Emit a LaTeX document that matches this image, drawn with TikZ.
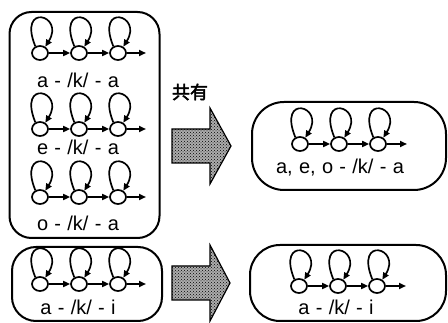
\documentclass[tikz,border=0pt]{standalone}
\usepackage{fontspec}
\setmainfont{Liberation Sans}
\newfontfamily\cjk[FakeBold=2.5]{Noto Sans CJK JP}
\usetikzlibrary{arrows.meta,patterns,shapes.geometric}
\newcommand\labfont{\fontsize{20}{20}\selectfont\spaceskip 6.3pt plus 1pt\relax}
\tikzset{
  st/.style={draw, ellipse, line width=1.7pt, minimum width=16pt, minimum height=14pt, inner sep=0pt},
  lp/.style={line width=1.7pt, -{Triangle[length=7pt,width=6pt]}},
  tr/.style={line width=1.7pt, -{Triangle[length=7pt,width=6pt]}},
  box/.style={draw, line width=2pt, inner sep=0pt},
  lab/.style={font=\labfont, inner sep=0pt},
  blk/.style={draw, line width=1.2pt, fill=gray!65, postaction={pattern=crosshatch dots}},
  kyo/.style={font=\cjk\fontsize{18}{18}\selectfont, inner sep=0pt}
}
\newcommand\myrow[4]{%
  \node[st] (#1a) at (#2,#3) {};
  \node[st] (#1b) at ({#2+39},#3) {};
  \node[st] (#1c) at ({#2+78},#3) {};
  \coordinate (#1o) at (#4,#3);
  \draw[lp] (#1a.125) .. controls +(-18,-44) and +(20,-32) .. (#1a.50);
  \draw[lp] (#1b.125) .. controls +(-18,-44) and +(20,-32) .. (#1b.50);
  \draw[lp] (#1c.125) .. controls +(-18,-44) and +(20,-32) .. (#1c.50);
  \draw[tr] (#1a) -- (#1b);
  \draw[tr] (#1b) -- (#1c);
  \draw[tr] (#1c) -- (#1o);
}
\begin{document}
\begin{tikzpicture}[x=1pt,y=-1pt]
\useasboundingbox (0,0) rectangle (448,323);
% boxes
\node[box, rounded corners=22pt, minimum width=150pt, minimum height=226pt] (B1) at (84.5,125) {};
\node[box, rounded corners=24pt, minimum width=150pt, minimum height=74pt] (B2) at (87,284) {};
\node[box, rounded corners=32pt, minimum width=194pt, minimum height=88pt] (B3) at (349,146) {};
\node[box, rounded corners=30pt, minimum width=196pt, minimum height=76pt] (B4) at (348,283) {};
% left big box rows
\myrow{r1}{40}{53}{146}
\node[lab] (t1) at (78,80) {a - /k/ - a};
\myrow{r2}{40}{129}{146}
\node[lab] (t2) at (78,147) {e - /k/ - a};
\myrow{r3}{40}{197}{146}
\node[lab] (t3) at (78,223) {o - /k/ - a};
% bottom left
\myrow{r4}{40}{284}{146}
\node[lab] (t4) at (78,307) {a - /k/ - i};
% right boxes
\myrow{r5}{300}{144}{407}
\node[lab] (t5) at (340,168) {a, e, o - /k/ - a};
\myrow{r6}{299}{286}{406}
\node[lab] (t6) at (336,307) {a - /k/ - i};
% block arrows
\draw[blk] (172,129) -- (210,129) -- (210,108) -- (231,146) -- (210,184) -- (210,163) -- (172,163) -- cycle;
\draw[blk] (172,266) -- (210,266) -- (210,245) -- (230,283) -- (210,321) -- (210,300) -- (172,300) -- cycle;
\node[kyo] (k) at (190,92) {共有};
\end{tikzpicture}
\end{document}
